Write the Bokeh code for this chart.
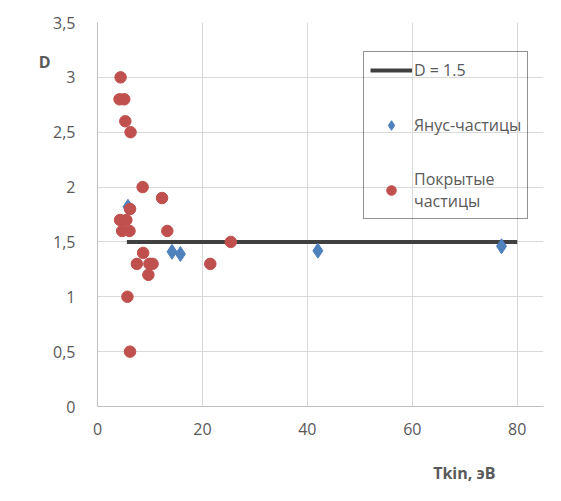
from bokeh.plotting import figure
from bokeh.models import Range1d, FixedTicker, Legend, LegendItem, LinearAxis
from bokeh.embed import file_html
from bokeh.resources import INLINE

# ---- data ----
line_x = [5.6, 80]
line_y = [1.5, 1.5]

janus_x = [5.8, 14.2, 15.8, 42.0, 77.0]
janus_y = [1.82, 1.41, 1.39, 1.42, 1.46]

coated_x = [4.4, 4.2, 5.1, 5.3, 6.3, 8.6, 12.3, 6.2, 4.3, 5.5, 4.7, 6.1, 13.3,
            8.7, 7.5, 9.9, 10.5, 9.7, 5.7, 6.2, 25.4, 21.5]
coated_y = [3.0, 2.8, 2.8, 2.6, 2.5, 2.0, 1.9, 1.8, 1.7, 1.7, 1.6, 1.6, 1.6,
            1.4, 1.3, 1.3, 1.3, 1.2, 1.0, 0.5, 1.5, 1.3]

x_ticks = [0, 20, 40, 60, 80]
x_tick_labels = ["0", "20", "40", "60", "80"]
y_ticks = [0, 0.5, 1, 1.5, 2, 2.5, 3, 3.5]
y_tick_labels = ["0", "0,5", "1", "1,5", "2", "2,5", "3", "3,5"]

series_names = ["D = 1.5", "Янус-частицы", "Покрытые\nчастицы"]
x_title = "Tkin, эВ"
x_title_at = 69.9   # Tkin value under which the x title is centred
y_title = "D"
y_title_at = 3.14   # D value at which the y title sits

FONT = "Open Sans"
GRAY = "#595959"

p = figure(width=553, height=493, output_backend="svg", toolbar_location=None,
           x_range=Range1d(0, 85), y_range=Range1d(0, 3.5),
           min_border_left=97, min_border_right=10, min_border_top=22,
           min_border_bottom=87)
p.outline_line_color = None
p.background_fill_color = "white"
p.border_fill_color = "white"

for ax, ticks, labels in ((p.xaxis[0], x_ticks, x_tick_labels),
                          (p.yaxis[0], y_ticks, y_tick_labels)):
    ax.ticker = FixedTicker(ticks=ticks)
    ax.major_label_overrides = {t: l for t, l in zip(ticks, labels)}
    ax.major_tick_line_color = None
    ax.minor_tick_line_color = None
    ax.axis_line_color = "#bfbfbf"
    ax.major_label_text_font = FONT
    ax.major_label_text_font_size = "16px"
    ax.major_label_text_color = GRAY
p.yaxis.major_label_standoff = 16
p.xaxis.major_label_standoff = 10


def title_axis(at, text, standoff):
    ax = LinearAxis(ticker=FixedTicker(ticks=[at]),
                    major_label_overrides={at: text})
    ax.axis_line_color = None
    ax.major_tick_line_color = None
    ax.minor_tick_line_color = None
    ax.major_tick_out = 0
    ax.major_label_standoff = standoff
    ax.major_label_text_font = FONT
    ax.major_label_text_font_size = "16px"
    ax.major_label_text_font_style = "bold"
    ax.major_label_text_color = GRAY
    return ax


# axis titles placed where the original chart has them
p.add_layout(title_axis(y_title_at, y_title, 0), "left")
p.add_layout(title_axis(x_title_at, x_title, 24), "below")

p.xgrid.ticker = FixedTicker(ticks=x_ticks)
p.ygrid.ticker = FixedTicker(ticks=y_ticks)
p.grid.grid_line_color = "#d9d9d9"
p.grid.grid_line_width = 1

r_line = p.line(line_x, line_y, line_color="#404040", line_width=4)
r_janus = p.scatter(janus_x, janus_y, marker="diamond", size=15,
                    fill_color="#4f81bd", line_color="#4f81bd")
r_coated = p.scatter(coated_x, coated_y, marker="circle", size=11.5,
                     fill_color="#c0504d", line_color="#c0504d")

legend = Legend(items=[LegendItem(label=series_names[0], renderers=[r_line]),
                       LegendItem(label=series_names[1], renderers=[r_janus]),
                       LegendItem(label=series_names[2], renderers=[r_coated])],
                location=(266, 187))
legend.background_fill_alpha = 0
legend.border_line_color = "#262626"
legend.border_line_width = 1.5
legend.label_text_font = FONT
legend.label_text_font_size = "16px"
legend.label_text_color = GRAY
legend.glyph_width = 42
legend.glyph_height = 24
legend.label_height = 24
legend.label_standoff = 2
legend.spacing = 31
legend.padding = 6
legend.margin = 0
p.add_layout(legend, "center")

open("out.html", "w").write(file_html(p, INLINE))
